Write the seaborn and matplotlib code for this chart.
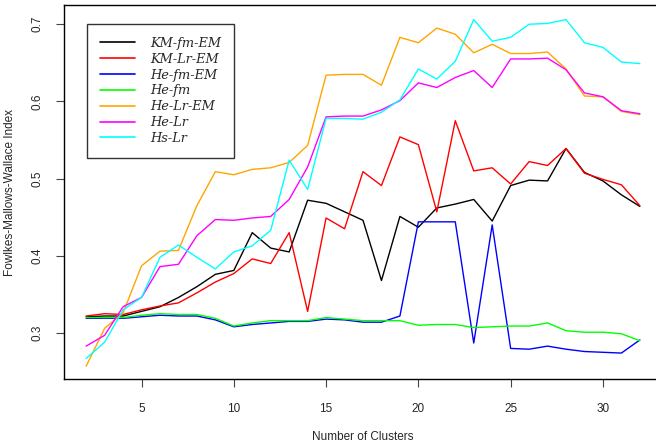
import numpy as np
import pandas as pd
import matplotlib
matplotlib.use("Agg")
import matplotlib.pyplot as plt
import seaborn as sns

clusters = list(range(2, 33))

km_fm_em = [0.321, 0.322, 0.322, 0.328, 0.334, 0.346, 0.360, 0.376, 0.381, 0.430,
            0.410, 0.405, 0.472, 0.468, 0.457, 0.446, 0.368, 0.451, 0.437, 0.462,
            0.467, 0.473, 0.445, 0.491, 0.498, 0.497, 0.539, 0.508, 0.497, 0.479, 0.464]
km_lr_em = [0.322, 0.325, 0.324, 0.330, 0.335, 0.339, 0.352, 0.366, 0.377, 0.396,
            0.390, 0.430, 0.328, 0.449, 0.435, 0.509, 0.491, 0.554, 0.544, 0.457,
            0.575, 0.510, 0.514, 0.493, 0.522, 0.517, 0.539, 0.507, 0.499, 0.492, 0.465]
he_fm_em = [0.319, 0.319, 0.319, 0.321, 0.323, 0.322, 0.322, 0.317, 0.308, 0.311,
            0.313, 0.315, 0.315, 0.318, 0.317, 0.314, 0.314, 0.322, 0.444, 0.444,
            0.444, 0.287, 0.440, 0.280, 0.279, 0.283, 0.279, 0.276, 0.275, 0.274, 0.291]
he_fm = [0.320, 0.320, 0.320, 0.323, 0.325, 0.324, 0.324, 0.319, 0.309, 0.313,
         0.316, 0.316, 0.316, 0.320, 0.318, 0.316, 0.316, 0.316, 0.310, 0.311,
         0.311, 0.307, 0.308, 0.309, 0.309, 0.313, 0.303, 0.301, 0.301, 0.299, 0.290]
he_lr_em = [0.257, 0.306, 0.326, 0.387, 0.406, 0.407, 0.465, 0.509, 0.505, 0.512,
            0.514, 0.521, 0.543, 0.634, 0.635, 0.635, 0.621, 0.683, 0.676, 0.695,
            0.687, 0.663, 0.674, 0.662, 0.662, 0.664, 0.642, 0.607, 0.606, 0.587, 0.583]
he_lr = [0.283, 0.297, 0.334, 0.346, 0.386, 0.389, 0.426, 0.447, 0.446, 0.449,
         0.451, 0.473, 0.515, 0.580, 0.581, 0.581, 0.589, 0.601, 0.624, 0.618,
         0.631, 0.640, 0.618, 0.655, 0.655, 0.656, 0.641, 0.611, 0.606, 0.588, 0.584]
hs_lr = [0.267, 0.288, 0.330, 0.346, 0.398, 0.414, 0.398, 0.383, 0.405, 0.413,
         0.433, 0.524, 0.486, 0.578, 0.578, 0.577, 0.586, 0.602, 0.642, 0.629,
         0.652, 0.706, 0.678, 0.683, 0.700, 0.701, 0.706, 0.676, 0.670, 0.651, 0.649]

series_names = ["KM-fm-EM", "KM-Lr-EM", "He-fm-EM", "He-fm", "He-Lr-EM", "He-Lr", "Hs-Lr"]
series_values = [km_fm_em, km_lr_em, he_fm_em, he_fm, he_lr_em, he_lr, hs_lr]
colors = ["#000000", "#FF0000", "#0000FF", "#00FF00", "#FFA500", "#FF00FF", "#00FFFF"]

x_ticks = [5, 10, 15, 20, 25, 30]
y_ticks = [0.3, 0.4, 0.5, 0.6, 0.7]

df = pd.DataFrame({
    "clusters": np.tile(clusters, len(series_names)),
    "value": np.concatenate(series_values),
    "series": np.repeat(series_names, len(clusters)),
})

sns.set_style("white")
plt.rcParams["font.family"] = ["Liberation Sans", "DejaVu Sans"]

fig = plt.figure(figsize=(6.56, 4.42), dpi=100)
ax = fig.add_axes([64 / 656, 1 - 379 / 442, 598 / 656, 374 / 442])

sns.lineplot(data=df, x="clusters", y="value", hue="series", hue_order=series_names,
             palette=dict(zip(series_names, colors)), linewidth=1.0, ax=ax,
             legend=True, estimator=None, sort=False)

ax.set_xlim(0.8, 33.2)
ax.set_ylim(0.2404, 0.7249)
ax.set_xticks(x_ticks)
ax.set_xticklabels([str(t) for t in x_ticks])
ax.set_yticks(y_ticks)
ax.set_yticklabels([f"{t:.1f}" for t in y_ticks], rotation=90, va="center")
ax.tick_params(axis="both", direction="out", length=6, width=0.8, color="#444444",
               labelsize=8.5, bottom=True, left=True)
ax.tick_params(axis="x", pad=11)
ax.tick_params(axis="y", pad=9)
for s in ax.spines.values():
    s.set_color("black")
    s.set_linewidth(1.0)

ax.set_xlabel("Number of Clusters", fontsize=8.5, labelpad=12)
ax.set_ylabel("Fowlkes-Mallows-Wallace Index", fontsize=8.5, labelpad=11)

handles, labels = ax.get_legend_handles_labels()
leg = ax.legend(handles, labels, loc="upper left", bbox_to_anchor=(23 / 598, 1 - 19 / 374),
                borderaxespad=0, frameon=True, fancybox=False, edgecolor="black",
                prop={"family": "DejaVu Serif", "style": "italic", "size": 9.3},
                handlelength=2.7, handletextpad=1.2, borderpad=1.0, labelspacing=0.22)
leg.get_frame().set_linewidth(1.0)
for line in leg.get_lines():
    line.set_linewidth(1.2)

fig.savefig("out.png", dpi=100)
